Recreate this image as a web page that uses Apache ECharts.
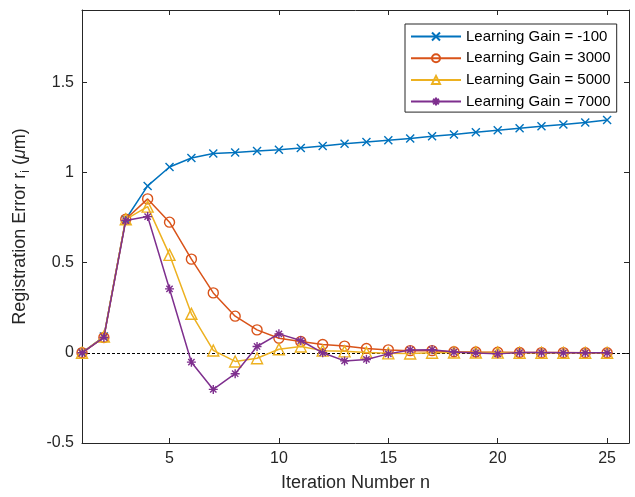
<!DOCTYPE html>
<html>
<head>
<meta charset="utf-8">
<script src="https://cdn.jsdelivr.net/npm/echarts@6/dist/echarts.min.js"></script>
<style>
html,body{margin:0;padding:0;background:#fff;}
#chart{width:635px;height:497px;}
</style>
</head>
<body>
<div id="chart"></div>
<script>
// ---- data ----
const iterations = [1,2,3,4,5,6,7,8,9,10,11,12,13,14,15,16,17,18,19,20,21,22,23,24,25];
const seriesNames = ['Learning Gain = -100','Learning Gain = 3000','Learning Gain = 5000','Learning Gain = 7000'];
const gainM100 = [0, 0.09, 0.74, 0.925, 1.03, 1.08, 1.105, 1.11, 1.118, 1.126, 1.135, 1.146, 1.158, 1.168, 1.178, 1.188, 1.2, 1.21, 1.222, 1.233, 1.244, 1.255, 1.266, 1.277, 1.29];
const gain3000 = [0, 0.085, 0.74, 0.853, 0.724, 0.519, 0.332, 0.203, 0.127, 0.081, 0.063, 0.046, 0.037, 0.024, 0.016, 0.012, 0.012, 0.006, 0.004, 0.003, 0.002, 0.001, 0.001, 0, 0];
const gain5000 = [0, 0.09, 0.74, 0.81, 0.543, 0.216, 0.013, -0.048, -0.03, 0.02, 0.035, 0.012, 0.008, 0.001, -0.003, -0.004, 0.0, 0.002, 0.002, 0.001, 0, 0, 0, 0, 0];
const gain7000 = [0, 0.085, 0.733, 0.755, 0.354, -0.052, -0.203, -0.116, 0.035, 0.105, 0.068, 0.0, -0.045, -0.037, -0.006, 0.016, 0.017, 0.004, -0.001, -0.006, 0.001, 0.001, 0, 0, 0];
const xTicks = [5, 10, 15, 20, 25];
const yTicks = [-0.5, 0, 0.5, 1, 1.5];

const colors = ['#0072BD', '#D95319', '#EDB120', '#7E2F8E'];
const symbols = [
  'path://M0,0L10,10M10,0L0,10',
  'circle',
  'triangle',
  'path://M5,0L5,10M0,5L10,5M1.5,1.5L8.5,8.5M8.5,1.5L1.5,8.5'
];
const symbolSizes = [8, 10, 11, 9];
const allValues = [gainM100, gain3000, gain5000, gain7000];

const FONT = '"Liberation Sans", Arial, Helvetica, sans-serif';
const AX = '#262626';

const series = allValues.map((vals, i) => {
  const s = {
    name: seriesNames[i],
    type: 'line',
    xAxisIndex: 0,
    yAxisIndex: 0,
    data: iterations.map((x, k) => [x, vals[k]]),
    symbol: symbols[i],
    symbolSize: symbolSizes[i],
    showAllSymbol: true,
    lineStyle: { color: colors[i], width: 1.5 },
    itemStyle: { color: 'rgba(0,0,0,0)', borderColor: colors[i], borderWidth: 1.4 },
    emphasis: { disabled: true },
    z: 3 + i
  };
  if (i === 0) {
    s.markLine = {
      silent: true,
      symbol: ['none', 'none'],
      label: { show: false },
      lineStyle: { color: '#000', type: [3, 2], width: 1 },
      data: [{ yAxis: 0 }],
      z: 2
    };
  }
  return s;
});

const chart = echarts.init(document.getElementById('chart'), null, { renderer: 'canvas' });
chart.setOption({
  animation: false,
  backgroundColor: '#fff',
  grid: { left: 80, right: 6, top: 10, bottom: 52, containLabel: false },
  legend: {
    orient: 'vertical',
    left: 405,
    top: 24,
    data: seriesNames,
    backgroundColor: '#fff',
    borderColor: AX,
    borderWidth: 1,
    borderRadius: 0,
    padding: [5, 6, 3, 5],
    itemGap: 6.7,
    itemWidth: 50,
    itemHeight: 10,
    textStyle: { fontFamily: FONT, fontSize: 15, color: '#000', lineHeight: 14 },
    selectedMode: false
  },
  xAxis: [
    {
      type: 'value', min: 1, max: 26, position: 'bottom',
      name: 'Iteration Number n', nameLocation: 'middle', nameGap: 31,
      nameTextStyle: { fontFamily: FONT, fontSize: 18, color: AX },
      axisLine: { show: true, onZero: false, lineStyle: { color: AX, width: 1 } },
      axisTick: { show: true, inside: true, length: 5, customValues: xTicks, lineStyle: { color: AX } },
      axisLabel: { show: true, margin: 8, customValues: xTicks, fontFamily: FONT, fontSize: 16, color: AX },
      splitLine: { show: false }
    },
    {
      type: 'value', min: 1, max: 26, position: 'top',
      axisLine: { show: true, onZero: false, lineStyle: { color: AX, width: 1 } },
      axisTick: { show: true, inside: true, length: 5, customValues: xTicks, lineStyle: { color: AX } },
      axisLabel: { show: false },
      splitLine: { show: false }
    }
  ],
  yAxis: [
    {
      type: 'value', min: -0.5, max: 1.9, position: 'left',
      name: 'Registration Error r{sub|i} ({mu|μ}m)', nameLocation: 'middle', nameGap: 50,
      nameTextStyle: {
        fontFamily: FONT, fontSize: 18, color: AX, lineHeight: 24,
        rich: {
          sub: { fontFamily: FONT, fontSize: 12, lineHeight: 12, color: AX, verticalAlign: 'bottom' },
          mu: { fontFamily: FONT, fontSize: 18, lineHeight: 24, color: AX, fontStyle: 'italic' }
        }
      },
      axisLine: { show: true, onZero: false, lineStyle: { color: AX, width: 1 } },
      axisTick: { show: true, inside: true, length: 5, customValues: yTicks, lineStyle: { color: AX } },
      axisLabel: { show: true, margin: 8, customValues: yTicks, fontFamily: FONT, fontSize: 16, color: AX },
      splitLine: { show: false }
    },
    {
      type: 'value', min: -0.5, max: 1.9, position: 'right',
      axisLine: { show: true, onZero: false, lineStyle: { color: AX, width: 1 } },
      axisTick: { show: true, inside: true, length: 5, customValues: yTicks, lineStyle: { color: AX } },
      axisLabel: { show: false },
      splitLine: { show: false }
    }
  ],
  series: series
});
</script>
</body>
</html>
